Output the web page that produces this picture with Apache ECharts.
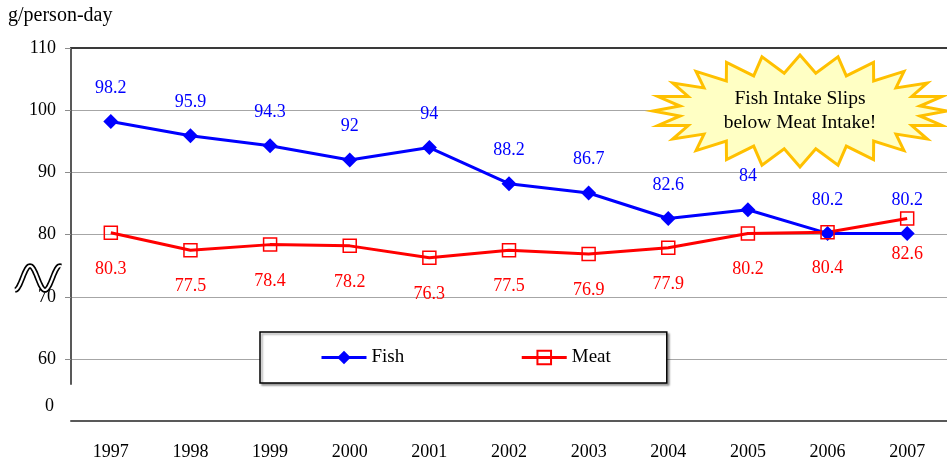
<!DOCTYPE html>
<html>
<head>
<meta charset="utf-8">
<script src="https://cdn.jsdelivr.net/npm/echarts@6/dist/echarts.min.js"></script>
<style>
  html, body { margin: 0; padding: 0; background: #fff; }
  #chart { width: 947px; height: 461px; }
</style>
</head>
<body>
<div id="chart"></div>
<script>
const years = ['1997', '1998', '1999', '2000', '2001', '2002', '2003', '2004', '2005', '2006', '2007'];
const fish = [98.2, 95.9, 94.3, 92, 94, 88.2, 86.7, 82.6, 84, 80.2, 80.2];
const meat = [80.3, 77.5, 78.4, 78.2, 76.3, 77.5, 76.9, 77.9, 80.2, 80.4, 82.6];
const yTicks = [60, 70, 80, 90, 100, 110];
// the "0" label sits under the broken part of the axis
const breakTick = 52.4;
const breakLabel = '0';

const FONT = '"Liberation Serif", "Times New Roman", serif';

const chart = echarts.init(document.getElementById('chart'));

// starburst callout
const burst = [];
const cx = 800, cy = 111, n = 24;
for (let i = 0; i < n * 2; i++) {
  const a = Math.PI * i / n;
  const outer = i % 2 === 0;
  const rx = outer ? 147 : 121;
  const ry = outer ? 56 : 38;
  burst.push([cx + rx * Math.cos(a), cy + ry * Math.sin(a)]);
}

// wavy break sign
const wave = [];
for (let x = 15; x <= 61; x += 1) {
  wave.push([x, 278 + 12 * Math.cos(2 * Math.PI * (x - 15) / 30)]);
}

const option = {
  animation: false,
  backgroundColor: '#fff',
  textStyle: { fontFamily: FONT },
  grid: [
    { left: 71, right: -11, top: 48, bottom: 77 },
    { left: 71, right: -11, top: 384, bottom: 39 }
  ],
  legend: {
    data: ['Fish', 'Meat'],
    left: 260,
    top: 332,
    padding: [16, 56, 16, 60],
    itemGap: 116,
    itemWidth: 45,
    itemHeight: 17,
    backgroundColor: '#fff',
    borderColor: '#000',
    borderWidth: 1.5,
    shadowColor: 'rgba(0,0,0,0.35)',
    shadowOffsetX: 2,
    shadowOffsetY: 2,
    shadowBlur: 2,
    lineStyle: { width: 3 },
    textStyle: { fontFamily: FONT, fontSize: 19, color: '#000' }
  },
  xAxis: [
    {
      gridIndex: 0,
      type: 'category',
      data: years,
      position: 'top',
      axisLine: { lineStyle: { color: '#3a3a3a', width: 2 } },
      axisTick: { show: false },
      axisLabel: { show: false }
    },
    {
      gridIndex: 1,
      type: 'category',
      data: years,
      axisLine: { lineStyle: { color: '#595959', width: 2 } },
      axisTick: { length: 6, lineStyle: { color: '#8c8c8c' } },
      axisLabel: { margin: 22, fontFamily: FONT, fontSize: 18, color: '#000' }
    }
  ],
  yAxis: [
    {
      gridIndex: 0,
      type: 'value',
      min: 56,
      max: 110,
      axisLine: { show: true, lineStyle: { color: '#595959', width: 2 } },
      axisTick: { show: true, length: 6, customValues: yTicks, lineStyle: { color: '#8c8c8c' } },
      axisLabel: { customValues: yTicks, margin: 15, fontFamily: FONT, fontSize: 18, color: '#000' },
      splitLine: { show: true, lineStyle: { color: '#a6a6a6', width: 1 } }
    },
    {
      gridIndex: 1,
      type: 'value',
      min: 50,
      max: 56,
      axisLine: { show: false },
      axisTick: { show: false },
      splitLine: { show: false },
      axisLabel: {
        customValues: [breakTick],
        formatter: () => breakLabel,
        margin: 17, fontFamily: FONT, fontSize: 18, color: '#000'
      }
    }
  ],
  series: [
    {
      name: 'Fish',
      type: 'line',
      xAxisIndex: 0,
      yAxisIndex: 0,
      data: fish,
      symbol: 'diamond',
      symbolSize: 15,
      lineStyle: { color: '#0000ff', width: 3 },
      itemStyle: { color: '#0000ff' },
      label: {
        show: true, position: 'top', distance: 17,
        fontFamily: FONT, fontSize: 18, color: '#0000ff'
      }
    },
    {
      name: 'Meat',
      type: 'line',
      xAxisIndex: 0,
      yAxisIndex: 0,
      data: meat,
      symbol: 'rect',
      symbolSize: 13,
      lineStyle: { color: '#ff0000', width: 3 },
      itemStyle: { color: 'rgba(255,255,255,0)', borderColor: '#ff0000', borderWidth: 1.5 },
      label: {
        show: true, position: 'bottom', distance: 20,
        fontFamily: FONT, fontSize: 18, color: '#ff0000'
      }
    }
  ],
  graphic: [
    {
      type: 'text', left: 8, top: 6, z: 100,
      style: { text: 'g/person-day', font: '20px ' + FONT, fill: '#000' }
    },
    {
      type: 'polyline', z: 100,
      shape: { points: wave, smooth: 0.3 },
      style: { stroke: '#000', lineWidth: 5.5, fill: null }
    },
    {
      type: 'polyline', z: 101,
      shape: { points: wave, smooth: 0.3 },
      style: { stroke: '#fff', lineWidth: 2.2, fill: null }
    },
    {
      type: 'polygon', z: 100,
      shape: { points: burst },
      style: { fill: '#ffffc4', stroke: '#ffc000', lineWidth: 3, lineJoin: 'miter' }
    },
    {
      type: 'text', x: cx, y: cy, z: 101,
      style: {
        text: 'Fish Intake Slips\nbelow Meat Intake!',
        font: '19.5px ' + FONT, fill: '#000', lineHeight: 24,
        align: 'center', verticalAlign: 'middle'
      }
    }
  ]
};

chart.setOption(option);
</script>
</body>
</html>
